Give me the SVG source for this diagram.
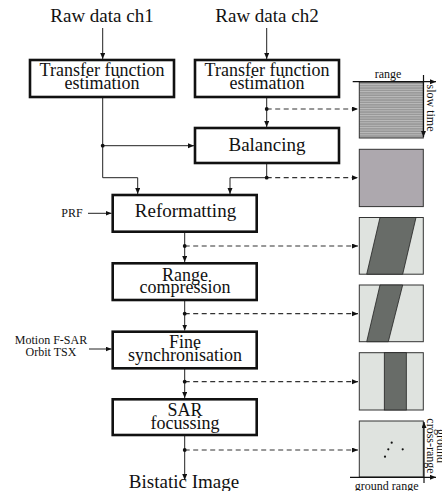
<svg xmlns="http://www.w3.org/2000/svg" width="442" height="491" viewBox="0 0 442 491">
<style>
.t{font-family:"Liberation Serif","Times New Roman","DejaVu Serif",serif;font-size:19px;fill:#111;text-anchor:middle}
.b{font-family:"Liberation Serif","Times New Roman","DejaVu Serif",serif;font-size:18px;fill:#111;text-anchor:middle}
.s{font-family:"Liberation Serif","Times New Roman","DejaVu Serif",serif;font-size:12px;fill:#111;text-anchor:middle}
.box{fill:#fff;stroke:#111;stroke-width:2.6}
.ln{fill:none;stroke:#222;stroke-width:1}
.da{fill:none;stroke:#333;stroke-width:1.2;stroke-dasharray:5,3.5}
.img{stroke:#333;stroke-width:1}
.ax{fill:none;stroke:#111;stroke-width:1.2}
</style>
<defs>
<marker id="ar" markerWidth="7" markerHeight="6" refX="6" refY="2.5" orient="auto" markerUnits="userSpaceOnUse">
<path d="M0,0 L6,2.5 L0,5 z" fill="#111"/>
</marker>
<pattern id="stripes" width="10" height="2.4" patternUnits="userSpaceOnUse">
<rect width="10" height="2.4" fill="#979797"/>
<rect width="10" height="0.9" fill="#bdbdbd"/>
</pattern>
</defs>

<g id="inputs">
<text class="t" x="102" y="22">Raw data ch1</text>
<text class="t" x="267" y="22">Raw data ch2</text>
<text class="s" x="72" y="217" font-size="11">PRF</text>
<text class="s" x="51" y="344">Motion F-SAR</text>
<text class="s" x="51" y="356">Orbit TSX</text>
<text class="t" x="184" y="488">Bistatic Image</text>
</g>

<g id="connectors">
<path class="ln" d="M102.7,28 V59" marker-end="url(#ar)"/>
<path class="ln" d="M266.7,28 V59" marker-end="url(#ar)"/>
<path class="ln" d="M266.7,97 V127" marker-end="url(#ar)"/>
<path class="ln" d="M102.7,97 V177.7 H137.7 V194" marker-end="url(#ar)"/>
<path class="ln" d="M102.7,145.7 H194" marker-end="url(#ar)"/>
<path class="ln" d="M266.7,163 V177.7 H230 V194" marker-end="url(#ar)"/>
<path class="ln" d="M184.7,231.7 V262" marker-end="url(#ar)"/>
<path class="ln" d="M184.7,300 V330.5" marker-end="url(#ar)"/>
<path class="ln" d="M184.7,368.3 V398" marker-end="url(#ar)"/>
<path class="ln" d="M184.7,435 V480" marker-end="url(#ar)"/>
<path class="ln" d="M88,213.3 H111.5" marker-end="url(#ar)"/>
<path class="ln" d="M89,349 H111.5" marker-end="url(#ar)"/>
<path class="da" d="M266.7,109 H358" marker-end="url(#ar)"/>
<path class="da" d="M266.7,177.7 H358" marker-end="url(#ar)"/>
<path class="da" d="M184.7,246 H358" marker-end="url(#ar)"/>
<path class="da" d="M184.7,313.7 H358" marker-end="url(#ar)"/>
<path class="da" d="M184.7,381.7 H358" marker-end="url(#ar)"/>
<path class="da" d="M184.7,450 H358" marker-end="url(#ar)"/>
<g fill="#111">
<circle cx="266.7" cy="109" r="1.9"/>
<circle cx="102.7" cy="145.7" r="1.9"/>
<circle cx="266.7" cy="177.7" r="1.9"/>
<circle cx="184.7" cy="246" r="1.9"/>
<circle cx="184.7" cy="313.7" r="1.9"/>
<circle cx="184.7" cy="381.7" r="1.9"/>
<circle cx="184.7" cy="450" r="1.9"/>
</g>
</g>

<g id="tfe1">
<rect class="box" x="30" y="60" width="144" height="37"/>
<text class="b" x="102" y="76">Transfer function</text>
<text class="b" x="102" y="89">estimation</text>
</g>
<g id="tfe2">
<rect class="box" x="195" y="60" width="144" height="37"/>
<text class="b" x="267" y="76">Transfer function</text>
<text class="b" x="267" y="89">estimation</text>
</g>
<g id="balancing">
<rect class="box" x="195" y="128" width="144" height="35"/>
<text class="t" x="267" y="151">Balancing</text>
</g>
<g id="reformatting">
<rect class="box" x="112.7" y="195" width="144" height="36.7"/>
<text class="t" x="185.5" y="217">Reformatting</text>
</g>
<g id="rangecomp">
<rect class="box" x="112.7" y="263.3" width="144" height="36.7"/>
<text class="b" x="185" y="280.5">Range</text>
<text class="b" x="185" y="293">compression</text>
</g>
<g id="finesync">
<rect class="box" x="112.7" y="331.7" width="144" height="36.6"/>
<text class="b" x="185" y="347.5">Fine</text>
<text class="b" x="185" y="360.5">synchronisation</text>
</g>
<g id="sarfocus">
<rect class="box" x="112.7" y="399.3" width="144" height="35.7"/>
<text class="b" x="185" y="415.5">SAR</text>
<text class="b" x="185" y="428.5">focussing</text>
</g>

<g id="img1">
<rect class="img" x="359.3" y="82" width="64" height="56" fill="url(#stripes)"/>
<path class="ax" d="M352.7,81.7 H436" marker-end="url(#ar)"/>
<path class="ax" d="M423.5,75 V137" marker-end="url(#ar)"/>
<text class="s" x="388" y="78">range</text>
<text class="s" transform="translate(427,108) rotate(90)" x="0" y="0">slow time</text>
</g>
<g id="img2">
<rect class="img" x="359.3" y="149.3" width="64" height="57.3" fill="#ada8ae"/>
</g>
<g id="img3">
<rect class="img" x="359.3" y="217.5" width="64" height="56.7" fill="#dfe3df"/>
<path d="M380,217.5 L416,217.5 L402.7,274.2 L366.7,274.2 z" fill="#686c68" stroke="#222" stroke-width="0.8"/>
</g>
<g id="img4">
<rect class="img" x="359.3" y="285" width="64" height="56.7" fill="#dfe3df"/>
<path d="M380,285 L402.7,285 L388.3,341.7 L366.7,341.7 z" fill="#686c68" stroke="#222" stroke-width="0.8"/>
</g>
<g id="img5">
<rect class="img" x="359.3" y="352.7" width="64" height="57.3" fill="#dfe3df"/>
<rect x="384.3" y="352.7" width="22" height="57.3" fill="#686c68" stroke="#222" stroke-width="0.8"/>
</g>
<g id="img6">
<rect class="img" x="359.3" y="421" width="64" height="56" fill="#dfe3df"/>
<path class="ax" d="M350,477.3 H436" marker-end="url(#ar)"/>
<path class="ax" d="M424,483 V422" marker-end="url(#ar)"/>
<g fill="#111">
<circle cx="391.7" cy="442.7" r="1.1"/>
<circle cx="388.3" cy="449.3" r="1.1"/>
<circle cx="402.7" cy="449.3" r="1.1"/>
<circle cx="385" cy="456.7" r="1.1"/>
</g>
<text class="s" x="386.7" y="489.5">ground range</text>
<text class="s" transform="translate(427,446) rotate(90)" x="0" y="0">cross-range</text>
<text class="s" transform="translate(436.5,446) rotate(90)" x="0" y="0">ground</text>
</g>
</svg>
